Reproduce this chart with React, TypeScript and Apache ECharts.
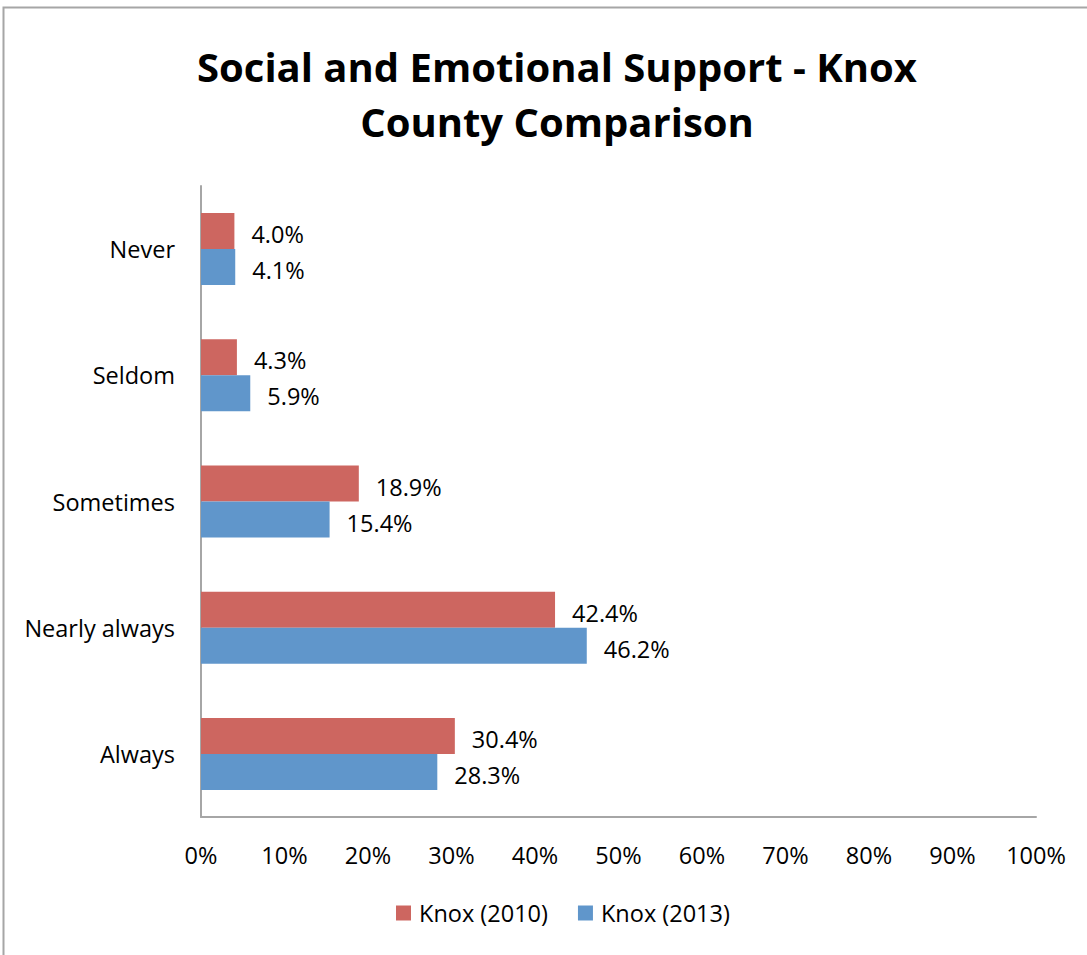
import React, { useEffect, useRef } from "react";
import * as echarts from "echarts";

const categories = ["Never", "Seldom", "Sometimes", "Nearly always", "Always"];
const knox2010 = [4.0, 4.3, 18.9, 42.4, 30.4];
const knox2013 = [4.1, 5.9, 15.4, 46.2, 28.3];
const seriesNames = ["Knox (2010)", "Knox (2013)"];
const titleText = "Social and Emotional Support - Knox\nCounty Comparison";

const FONT = "'Open Sans', Lato, sans-serif";
const FS = 23.5;

export default function App() {
  const ref = useRef<HTMLDivElement>(null);
  useEffect(() => {
    document.body.style.margin = "0";
    const chart = echarts.init(ref.current!, null, { renderer: "svg" });
    const labelCfg = {
      show: true,
      position: "right",
      distance: 17,
      fontSize: FS,
      fontFamily: FONT,
      color: "#000",
      offset: [0, 3],
      formatter: (p: any) => p.value.toFixed(1) + "%",
    };
    chart.setOption({
      animation: false,
      backgroundColor: "#fff",
      textStyle: { fontFamily: FONT },
      graphic: [
        {
          type: "rect",
          shape: { x: 3.5, y: 7.5, width: 1200, height: 1200 },
          style: { fill: "none", stroke: "#a6a6a6", lineWidth: 2 },
          silent: true,
        },
      ],
      title: {
        text: titleText,
        left: 552,
        top: 34,
        textAlign: "center",
        textStyle: {
          fontFamily: FONT,
          fontSize: 40,
          fontWeight: "bold",
          color: "#000",
          lineHeight: 55,
        },
      },
      legend: {
        bottom: 25,
        left: 391,
        itemWidth: 15,
        itemHeight: 15,
        itemGap: 30,
        icon: "rect",
        textStyle: { fontFamily: FONT, fontSize: FS, color: "#000", padding: [0, 0, 0, 3] },
        data: seriesNames,
      },
      grid: { left: 201, right: 51, top: 186, bottom: 138, containLabel: false },
      xAxis: {
        type: "value",
        min: 0,
        max: 100,
        interval: 10,
        axisLine: { show: true, lineStyle: { color: "#a6a6a6", width: 2 } },
        axisTick: { show: false },
        splitLine: { show: false },
        axisLabel: {
          formatter: "{value}%",
          fontSize: FS,
          fontFamily: FONT,
          color: "#000",
          margin: 26,
        },
      },
      yAxis: {
        type: "category",
        data: categories,
        inverse: true,
        axisLine: { show: true, lineStyle: { color: "#a6a6a6", width: 2 } },
        axisTick: { show: false },
        axisLabel: { fontSize: FS, fontFamily: FONT, color: "#000", margin: 26 },
      },
      series: [
        {
          name: seriesNames[0],
          type: "bar",
          data: knox2010,
          barWidth: 36,
          barGap: "0%",
          itemStyle: { color: "#CD6660" },
          label: labelCfg,
        },
        {
          name: seriesNames[1],
          type: "bar",
          data: knox2013,
          barWidth: 36,
          barGap: "0%",
          itemStyle: { color: "#6096CB" },
          label: labelCfg,
        },
      ],
    });
    return () => chart.dispose();
  }, []);
  return <div ref={ref} style={{ width: 1087, height: 955 }} />;
}
